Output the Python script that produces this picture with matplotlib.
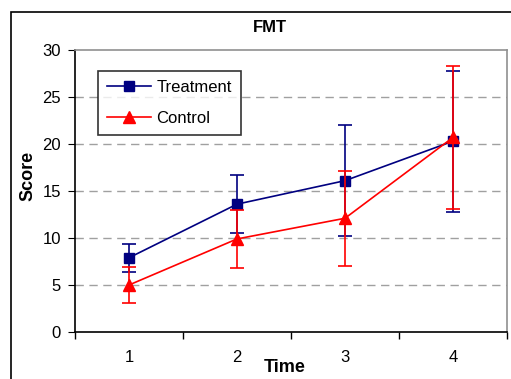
import matplotlib.pyplot as plt
from matplotlib.patches import Rectangle
from matplotlib.lines import Line2D

plt.rcParams['font.family'] = ['Liberation Sans', 'DejaVu Sans']

# Data
times = [1, 2, 3, 4]
treatment = [7.9, 13.6, 16.1, 20.3]
treatment_err = [1.5, 3.1, 5.9, 7.5]
control = [5.0, 9.9, 12.1, 20.7]
control_err = [1.95, 3.1, 5.05, 7.6]
yticks = [0, 5, 10, 15, 20, 25, 30]

navy = '#000080'
red = '#ff0000'

fig = plt.figure(figsize=(5.11, 3.79), dpi=100)
ax = fig.add_axes([75 / 511, 47 / 379, 432 / 511, 282 / 379])

# outer chart border (only top/left visible in the crop)
fig.patches.append(Rectangle((11 / 511, -0.1), 1.2, (379 - 12) / 379 + 0.1,
                             transform=fig.transFigure, fill=False,
                             edgecolor='black', linewidth=1.2))

ax.errorbar(times, treatment, yerr=treatment_err, color=navy, marker='s',
            markersize=6.5, linewidth=1.2, capsize=5, capthick=1.2,
            elinewidth=1.2, zorder=3)
ax.errorbar(times, control, yerr=control_err, color=red, marker='^',
            markersize=8, linewidth=1.2, capsize=5, capthick=1.2,
            elinewidth=1.2, zorder=4)

ax.set_xlim(0.5, 4.5)
ax.set_ylim(0, 30)
ax.set_yticks(yticks)
ax.set_xticks(times)
ax.set_xticks([0.5, 1.5, 2.5, 3.5, 4.5], minor=True)
ax.tick_params(axis='x', which='major', length=0, labelsize=12, pad=13)
ax.tick_params(axis='x', which='minor', length=5, direction='out', width=1)
ax.tick_params(axis='y', length=5, direction='out', labelsize=12, pad=5)

for y in yticks[1:-1]:
    ax.axhline(y, color='#a0a0a0', linestyle=(0, (6, 4)), linewidth=1, zorder=1)

ax.spines['top'].set_color('#909090')
ax.spines['right'].set_color('#909090')
ax.spines['left'].set_color('black')
ax.spines['bottom'].set_color('black')
for s in ax.spines.values():
    s.set_linewidth(1.2)

fig.text(270 / 511, 1 - 27 / 379, 'FMT', ha='center', va='center',
         fontsize=12, fontweight='bold')
fig.text(285 / 511, 1 - 368 / 379, 'Time', ha='center', va='center',
         fontsize=13, fontweight='bold')
fig.text(28 / 511, 1 - 176 / 379, 'Score', ha='center', va='center',
         fontsize=13, fontweight='bold', rotation=90)

handles = [
    Line2D([], [], color=navy, marker='s', markersize=6.5, linewidth=1.2),
    Line2D([], [], color=red, marker='^', markersize=8, linewidth=1.2),
]
leg = ax.legend(handles, ['Treatment', 'Control'], loc='upper left',
                bbox_to_anchor=(23 / 432, 1 - 21 / 282),
                fontsize=12, frameon=True, fancybox=False, edgecolor='black',
                handlelength=2.6, borderpad=0.55, labelspacing=0.95,
                handletextpad=0.35, borderaxespad=0)
leg.get_frame().set_linewidth(1.2)

fig.savefig('out.png', dpi=100)
